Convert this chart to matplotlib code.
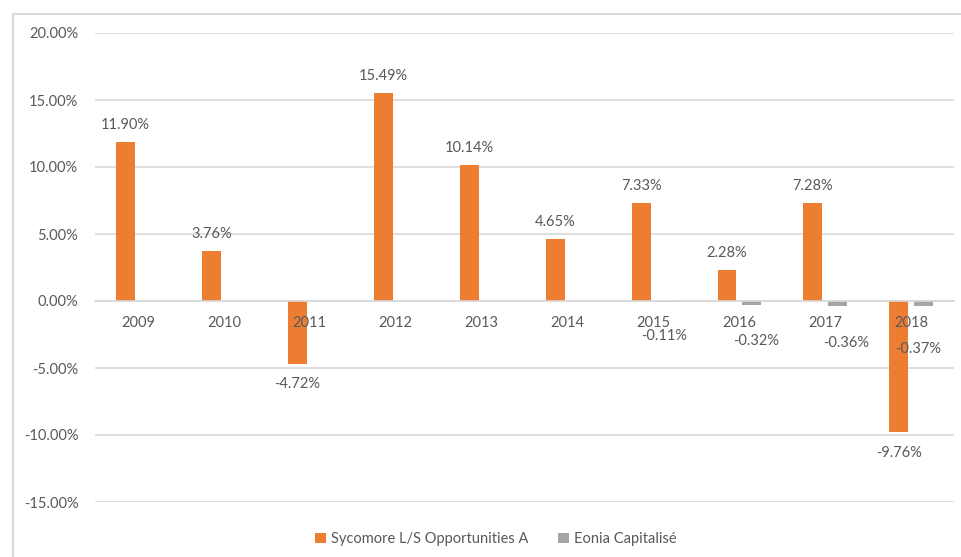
import numpy as np
import matplotlib
matplotlib.use("Agg")
import matplotlib.pyplot as plt
from matplotlib.patches import Rectangle
from matplotlib.ticker import FuncFormatter, MultipleLocator
from matplotlib.transforms import offset_copy

years = ["2009", "2010", "2011", "2012", "2013", "2014", "2015", "2016", "2017", "2018"]
sycomore = [11.90, 3.76, -4.72, 15.49, 10.14, 4.65, 7.33, 2.28, 7.28, -9.76]
eonia = [np.nan, np.nan, np.nan, np.nan, np.nan, np.nan, -0.11, -0.32, -0.36, -0.37]
series_names = ["Sycomore L/S Opportunities A", "Eonia Capitalisé"]

ORANGE = "#ED7D31"
GRAY = "#A5A5A5"
TXT = "#595959"
GRID = "#D9D9D9"

plt.rcParams['font.family'] = ['Lato', 'DejaVu Sans']

fig = plt.figure(figsize=(9.62, 5.57), dpi=100)
ax = fig.add_axes([95/962, 1-502/557, (954-95)/962, (502-33)/557])

x = np.arange(len(years))
w = 0.22
off = 0.143
b1 = ax.bar(x - off, sycomore, w, color=ORANGE, zorder=2, label=series_names[0])
b2 = ax.bar(x + off, eonia, w, color=GRAY, zorder=2, label=series_names[1])

ax.set_xlim(-0.5, len(years) - 0.5)
ax.set_ylim(-15, 20)
ax.yaxis.set_major_locator(MultipleLocator(5))
ax.yaxis.set_major_formatter(FuncFormatter(lambda v, p: f"{v:.2f}%"))
ax.grid(axis='y', color=GRID, linewidth=1.2, zorder=0)
ax.set_axisbelow(True)
for s in ['top', 'right', 'left']:
    ax.spines[s].set_visible(False)
ax.spines['bottom'].set_position(('data', 0))
ax.spines['bottom'].set_color(GRID)
ax.spines['bottom'].set_linewidth(1.2)
ax.set_xticks(x)
ax.set_xticklabels([])
ax.tick_params(axis='x', length=0)
ax.tick_params(axis='y', length=0, pad=12, labelsize=10.5, colors=TXT)

# category labels drawn above bars (as in the reference)
tr = offset_copy(ax.transData, fig=fig, x=0, y=-22 * 72 / 100.0, units='points')
for i, yr in enumerate(years):
    ax.text(x[i], 0, yr, transform=tr, ha='center', va='center', fontsize=10.5,
            color=TXT, zorder=6)

px = 72 / 100.0
# label offsets in pixels (dx, dy) relative to bar end
syc_off = [(0, 17), (0, 17), (0, -20), (0, 17), (0, 17), (0, 17), (0, 17), (0, 17), (0, 17), (0, -21)]
eon_off = [None] * 6 + [(-2, -33.5), (5, -36), (9, -37), (-5, -43)]

for i, v in enumerate(sycomore):
    dx, dy = syc_off[i]
    ax.annotate(f"{v:.2f}%", (x[i] - off, v), xytext=(dx*px, dy*px), textcoords='offset points',
                ha='center', va='center', fontsize=10.5, color=TXT, zorder=6)
for i, v in enumerate(eonia):
    if np.isnan(v):
        continue
    dx, dy = eon_off[i]
    ax.annotate(f"{v:.2f}%", (x[i] + off, v), xytext=(dx*px, dy*px), textcoords='offset points',
                ha='center', va='center', fontsize=10.5, color=TXT, zorder=6)

leg = fig.legend(handles=[b1, b2], labels=series_names, loc='center', bbox_to_anchor=(496/962, 1-539/557),
                 ncol=2, frameon=False, fontsize=10.5, handlelength=0.75, handleheight=0.75,
                 handletextpad=0.35, columnspacing=2.0)
for t in leg.get_texts():
    t.set_color(TXT)

fig.patches.append(Rectangle((12.5/962, -0.5), 1.5, 1.5 - 13.5/557, transform=fig.transFigure,
                             fill=False, edgecolor=GRID, linewidth=1.5))

fig.savefig("out.png", dpi=100)
